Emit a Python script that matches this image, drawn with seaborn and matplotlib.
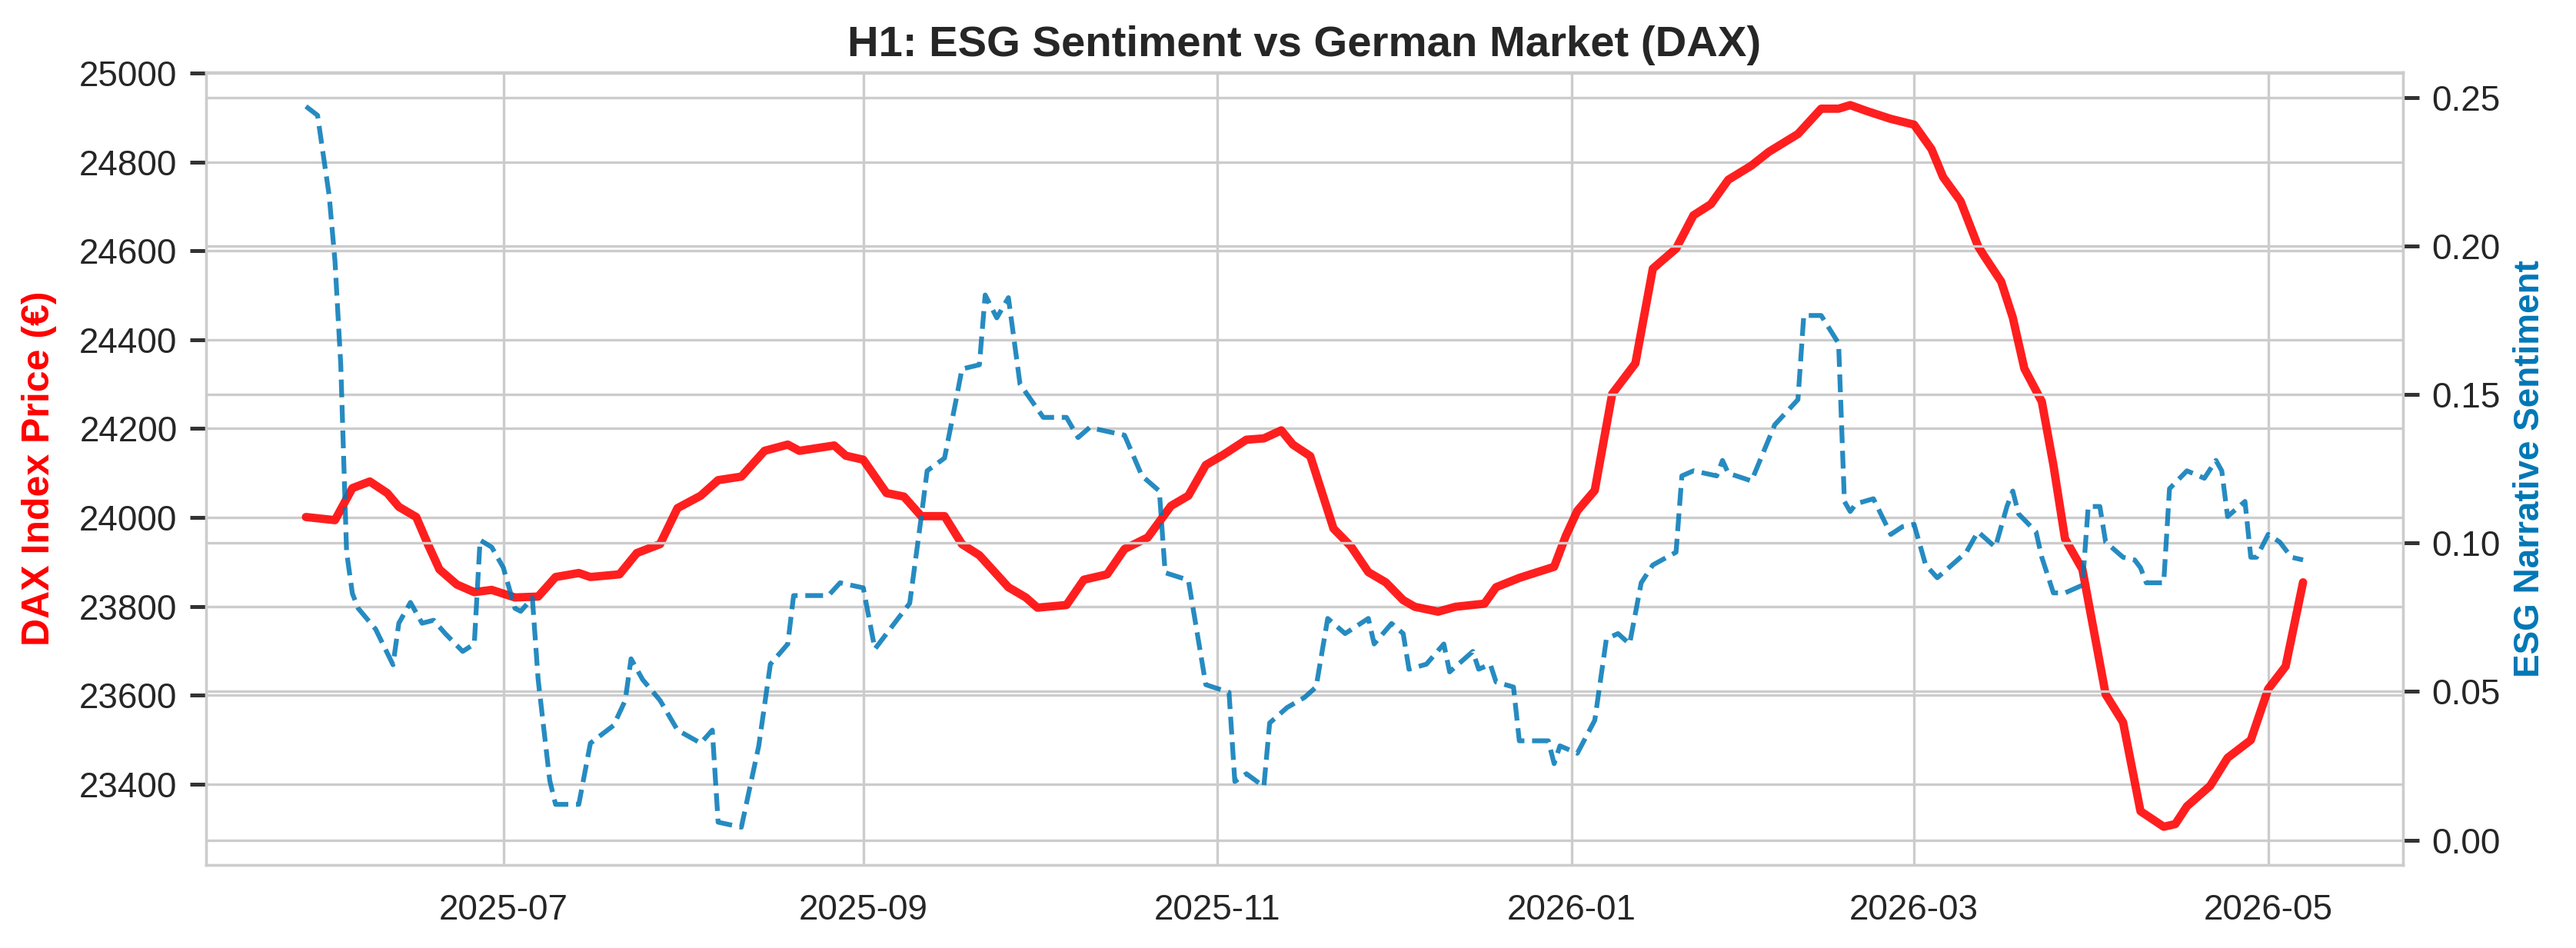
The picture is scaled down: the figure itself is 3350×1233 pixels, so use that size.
import pandas as pd
import matplotlib
matplotlib.use("Agg")
import matplotlib.pyplot as plt
import matplotlib.dates as mdates
from matplotlib.ticker import MultipleLocator
import seaborn as sns

# DAX index (smoothed)
dax_dates = [
    "2025-05-28", "2025-06-02", "2025-06-05", "2025-06-08", "2025-06-11", "2025-06-13",
    "2025-06-16", "2025-06-18", "2025-06-20", "2025-06-23", "2025-06-26", "2025-06-29",
    "2025-07-03", "2025-07-07", "2025-07-10", "2025-07-14", "2025-07-16", "2025-07-21",
    "2025-07-24", "2025-07-28", "2025-07-31", "2025-08-04", "2025-08-07", "2025-08-11",
    "2025-08-15", "2025-08-19", "2025-08-21", "2025-08-27", "2025-08-29", "2025-09-01",
    "2025-09-05", "2025-09-08", "2025-09-11", "2025-09-15", "2025-09-18", "2025-09-21",
    "2025-09-26", "2025-09-29", "2025-10-01", "2025-10-06", "2025-10-09", "2025-10-13",
    "2025-10-16", "2025-10-20", "2025-10-24", "2025-10-27", "2025-10-30", "2025-11-02",
    "2025-11-06", "2025-11-09", "2025-11-12", "2025-11-14", "2025-11-17", "2025-11-21",
    "2025-11-24", "2025-11-27", "2025-11-30", "2025-12-03", "2025-12-05", "2025-12-09",
    "2025-12-12", "2025-12-17", "2025-12-19", "2025-12-23", "2025-12-29", "2025-12-31",
    "2026-01-02", "2026-01-05", "2026-01-08", "2026-01-12", "2026-01-15", "2026-01-19",
    "2026-01-22", "2026-01-25", "2026-01-28", "2026-02-01", "2026-02-04", "2026-02-09",
    "2026-02-13", "2026-02-16", "2026-02-18", "2026-02-21", "2026-02-25", "2026-03-01",
    "2026-03-04", "2026-03-06", "2026-03-09", "2026-03-12", "2026-03-13", "2026-03-16",
    "2026-03-18", "2026-03-20", "2026-03-23", "2026-03-25", "2026-03-27", "2026-03-30",
    "2026-04-03", "2026-04-06", "2026-04-09", "2026-04-13", "2026-04-15", "2026-04-17",
    "2026-04-21", "2026-04-24", "2026-04-28", "2026-05-01", "2026-05-04", "2026-05-07",
]
dax_values = [
    24001, 23994, 24066, 24081, 24055, 24024,
    24001, 23940, 23883, 23849, 23832, 23837,
    23820, 23822, 23866, 23875, 23866, 23872,
    23920, 23940, 24021, 24049, 24084, 24092,
    24150, 24164, 24150, 24162, 24139, 24130,
    24055, 24047, 24003, 24003, 23940, 23915,
    23843, 23820, 23797, 23803, 23860, 23872,
    23929, 23955, 24026, 24049, 24118, 24141,
    24175, 24178, 24196, 24164, 24138, 23975,
    23935, 23877, 23854, 23814, 23799, 23788,
    23799, 23806, 23843, 23864, 23889, 23958,
    24015, 24061, 24278, 24347, 24560, 24605,
    24680, 24705, 24760, 24792, 24823, 24863,
    24920, 24920, 24928, 24914, 24897, 24884,
    24829, 24766, 24712, 24611, 24590, 24531,
    24450, 24335, 24261, 24118, 23952, 23883,
    23602, 23539, 23339, 23304, 23310, 23350,
    23396, 23459, 23499, 23614, 23665, 23854,
]

# ESG narrative sentiment
esg_dates = [
    "2025-05-28", "2025-05-30", "2025-06-01", "2025-06-02", "2025-06-03", "2025-06-04",
    "2025-06-05", "2025-06-06", "2025-06-09", "2025-06-12", "2025-06-13", "2025-06-15",
    "2025-06-17", "2025-06-19", "2025-06-21", "2025-06-24", "2025-06-26", "2025-06-27",
    "2025-06-29", "2025-07-01", "2025-07-03", "2025-07-04", "2025-07-06", "2025-07-07",
    "2025-07-09", "2025-07-10", "2025-07-14", "2025-07-16", "2025-07-20", "2025-07-22",
    "2025-07-23", "2025-07-25", "2025-07-28", "2025-07-31", "2025-08-04", "2025-08-06",
    "2025-08-07", "2025-08-11", "2025-08-14", "2025-08-16", "2025-08-19", "2025-08-20",
    "2025-08-26", "2025-08-28", "2025-09-01", "2025-09-03", "2025-09-07", "2025-09-09",
    "2025-09-11", "2025-09-12", "2025-09-15", "2025-09-17", "2025-09-18", "2025-09-21",
    "2025-09-22", "2025-09-24", "2025-09-26", "2025-09-28", "2025-10-02", "2025-10-06",
    "2025-10-08", "2025-10-10", "2025-10-12", "2025-10-16", "2025-10-19", "2025-10-22",
    "2025-10-23", "2025-10-27", "2025-10-30", "2025-11-03", "2025-11-04", "2025-11-06",
    "2025-11-09", "2025-11-10", "2025-11-13", "2025-11-16", "2025-11-18", "2025-11-20",
    "2025-11-23", "2025-11-27", "2025-11-28", "2025-12-01", "2025-12-03", "2025-12-04",
    "2025-12-07", "2025-12-10", "2025-12-11", "2025-12-15", "2025-12-16", "2025-12-18",
    "2025-12-19", "2025-12-22", "2025-12-23", "2025-12-28", "2025-12-29", "2025-12-30",
    "2026-01-02", "2026-01-05", "2026-01-07", "2026-01-09", "2026-01-11", "2026-01-13",
    "2026-01-15", "2026-01-19", "2026-01-20", "2026-01-22", "2026-01-26", "2026-01-27",
    "2026-01-28", "2026-02-01", "2026-02-05", "2026-02-09", "2026-02-10", "2026-02-13",
    "2026-02-16", "2026-02-17", "2026-02-18", "2026-02-19", "2026-02-22", "2026-02-25",
    "2026-02-27", "2026-03-01", "2026-03-03", "2026-03-05", "2026-03-10", "2026-03-12",
    "2026-03-15", "2026-03-17", "2026-03-18", "2026-03-19", "2026-03-22", "2026-03-23",
    "2026-03-25", "2026-03-27", "2026-03-30", "2026-03-31", "2026-04-02", "2026-04-03",
    "2026-04-06", "2026-04-08", "2026-04-09", "2026-04-10", "2026-04-13", "2026-04-14",
    "2026-04-17", "2026-04-20", "2026-04-22", "2026-04-23", "2026-04-24", "2026-04-27",
    "2026-04-28", "2026-04-29", "2026-05-01", "2026-05-03", "2026-05-05", "2026-05-07",
]
esg_values = [
    0.247, 0.244, 0.217, 0.195, 0.160, 0.097,
    0.083, 0.078, 0.071, 0.059, 0.073, 0.080,
    0.073, 0.074, 0.0695, 0.0635, 0.066, 0.101,
    0.0986, 0.0917, 0.078, 0.077, 0.0815, 0.054,
    0.020, 0.012, 0.012, 0.0326, 0.0386, 0.047,
    0.061, 0.054, 0.047, 0.037, 0.0326, 0.037,
    0.006, 0.0043, 0.0317, 0.0592, 0.066, 0.0823,
    0.0823, 0.0866, 0.0849, 0.0643, 0.0746, 0.0797,
    0.1089, 0.1243, 0.1286, 0.1483, 0.1586, 0.160,
    0.1835, 0.1758, 0.1826, 0.1535, 0.1423, 0.1423,
    0.1355, 0.1389, 0.138, 0.1363, 0.1226, 0.1175,
    0.090, 0.0875, 0.0523, 0.0497, 0.0197, 0.0223,
    0.018, 0.0394, 0.0446, 0.048, 0.0515, 0.0746,
    0.0695, 0.0746, 0.066, 0.0729, 0.0695, 0.0575,
    0.0592, 0.066, 0.0566, 0.0635, 0.0575, 0.0592,
    0.0532, 0.0515, 0.0334, 0.0334, 0.0257, 0.0317,
    0.0292, 0.0403, 0.0677, 0.0695, 0.066, 0.0866,
    0.0926, 0.0969, 0.1226, 0.1243, 0.1226, 0.1278,
    0.1235, 0.1209, 0.1398, 0.1483, 0.1766, 0.1766,
    0.1672, 0.114, 0.1106, 0.1132, 0.1149, 0.1029,
    0.1055, 0.1063, 0.0926, 0.0883, 0.0969, 0.1038,
    0.0986, 0.1123, 0.1175, 0.1098, 0.1038, 0.0952,
    0.0832, 0.0832, 0.0858, 0.1123, 0.1123, 0.1003,
    0.0952, 0.0943, 0.0917, 0.0866, 0.0866, 0.1183,
    0.1243, 0.1218, 0.1278, 0.1243, 0.1089, 0.114,
    0.0952, 0.0952, 0.1029, 0.1003, 0.0952, 0.0943,
]

sns.set_style("whitegrid")
plt.rcParams["font.family"] = ["Liberation Sans", "DejaVu Sans"]

dax_color = "red"
esg_color = "#0077b6"

fig, ax1 = plt.subplots(figsize=(3350 / 300, 1233 / 300), dpi=300)
fig.subplots_adjust(left=0.080, right=0.9328, bottom=0.0876, top=0.9238)

sns.lineplot(x=pd.to_datetime(dax_dates), y=dax_values, ax=ax1,
             color=dax_color, linewidth=2.6, alpha=0.88)
ax1.set_ylabel("DAX Index Price (€)", color=dax_color, fontsize=12,
               fontweight="bold", labelpad=7)
ax1.set_xlabel("")
ax1.set_ylim(23218, 25002)
ax1.yaxis.set_major_locator(MultipleLocator(200))

ax2 = ax1.twinx()
sns.lineplot(x=pd.to_datetime(esg_dates), y=esg_values, ax=ax2,
             color=esg_color, linewidth=1.5, linestyle="--", alpha=0.85)
ax2.set_ylabel("ESG Narrative Sentiment", color=esg_color, fontsize=11, fontweight="bold")
ax2.set_ylim(-0.0084, 0.2585)
ax2.yaxis.set_major_locator(MultipleLocator(0.05))

ax1.xaxis.set_major_locator(mdates.MonthLocator(bymonth=[1, 3, 5, 7, 9, 11]))
ax1.xaxis.set_major_formatter(mdates.DateFormatter("%Y-%m"))

ax1.tick_params(axis="x", bottom=False, labelsize=11, pad=5.5)
ax1.tick_params(axis="y", left=True, length=5, width=1.2, color="#333333", labelsize=11, pad=4)
ax2.tick_params(axis="y", right=True, length=5, width=1.2, color="#333333", labelsize=11, pad=4)

ax1.set_title("H1: ESG Sentiment vs German Market (DAX)", fontsize=13.5,
              fontweight="bold", pad=5)

fig.savefig("out.png", dpi=300)
